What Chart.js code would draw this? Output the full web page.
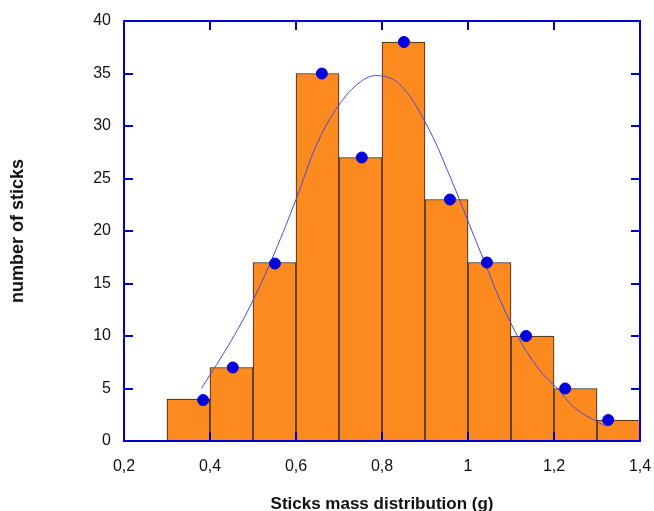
<!DOCTYPE html>
<html><head><meta charset="utf-8">
<script src="https://cdn.jsdelivr.net/npm/chart.js@4"></script>
<style>html,body{margin:0;padding:0;background:#fff}canvas{display:block}</style>
</head><body>
<canvas id="c" width="654" height="511"></canvas>
<script>
const binCenters = [0.35,0.45,0.55,0.65,0.75,0.85,0.95,1.05,1.15,1.25,1.35];
const binCounts  = [4,7,17,35,27,38,23,17,10,5,2];
const pointX = [0.384,0.453,0.551,0.66,0.753,0.851,0.958,1.044,1.135,1.226,1.326];
const pointY = [3.9,7.0,16.9,35,27,38,23,17,10,5,2];
const curveX = [0.38,0.45,0.50,0.55,0.60,0.65,0.70,0.75,0.79,0.84,0.90,0.96,1.03,1.10,1.16,1.21,1.25,1.32];
const curveY = [5.0,9.6,13.4,17.9,23.0,28.4,32.0,34.2,34.8,34.0,30.4,25.0,17.9,11.2,7.1,4.9,3.1,1.4];
const xTitle = 'Sticks mass distribution (g)';
const yTitle = 'number of sticks';

const BLUE = '#0000CC';
const fmt = v => Number(v.toFixed(1)).toString().replace('.', ',');

const frame = {
  id: 'frame',
  afterDatasetsDraw(chart) {
    const {ctx, chartArea: a, scales: {x, y}} = chart;
    ctx.save();
    ctx.strokeStyle = BLUE;
    ctx.lineWidth = 2;
    ctx.strokeRect(a.left, a.top, a.right - a.left, a.bottom - a.top);
    const L = 9;
    ctx.beginPath();
    y.ticks.forEach(t => {
      const py = Math.round(y.getPixelForValue(t.value));
      ctx.moveTo(a.left, py); ctx.lineTo(a.left + L, py);
      ctx.moveTo(a.right, py); ctx.lineTo(a.right - L, py);
    });
    x.ticks.forEach(t => {
      const px = Math.round(x.getPixelForValue(t.value));
      ctx.moveTo(px, a.top); ctx.lineTo(px, a.top + L);
      ctx.moveTo(px, a.bottom); ctx.lineTo(px, a.bottom - L);
    });
    ctx.stroke();
    ctx.restore();
  }
};

new Chart(document.getElementById('c'), {
  type: 'bar',
  data: {
    datasets: [
      {
        type: 'scatter',
        data: pointX.map((v, i) => ({x: v, y: pointY[i]})),
        backgroundColor: '#0000DD',
        borderColor: '#0000DD',
        pointRadius: 5.5,
        order: 1
      },
      {
        type: 'line',
        data: curveX.map((v, i) => ({x: v, y: curveY[i]})),
        borderColor: '#4848E0',
        borderWidth: 1,
        pointRadius: 0,
        tension: 0.4,
        fill: false,
        order: 2
      },
      {
        type: 'bar',
        data: binCenters.map((v, i) => ({x: v, y: binCounts[i]})),
        backgroundColor: '#FD8A1E',
        borderColor: '#222222',
        borderWidth: 1,
        barPercentage: 1,
        categoryPercentage: 1,
        order: 3
      }
    ]
  },
  options: {
    responsive: false,
    animation: false,
    events: [],
    layout: {padding: {top: 21, right: 14, left: 0, bottom: 0}},
    plugins: {legend: {display: false}, tooltip: {enabled: false}},
    scales: {
      x: {
        type: 'linear', min: 0.2, max: 1.4, offset: false,
        grid: {display: false, offset: false, drawTicks: false},
        border: {display: false},
        ticks: {stepSize: 0.2, callback: v => fmt(v), color: '#111', padding: 16,
                font: {family: 'Liberation Sans, Arial, sans-serif', size: 16}, maxRotation: 0},
        title: {display: true, text: xTitle, color: '#111',
                font: {family: 'Liberation Sans, Arial, sans-serif', size: 17, weight: 'bold', lineHeight: 0.75},
                padding: {top: 0, bottom: 0}},
        afterFit: s => { s.height = 70; s.paddingLeft = 0; s.paddingRight = 0; }
      },
      y: {
        min: 0, max: 40,
        grid: {display: false, drawTicks: false},
        border: {display: false},
        ticks: {stepSize: 5, color: '#111', padding: 13,
                font: {family: 'Liberation Sans, Arial, sans-serif', size: 16}},
        title: {display: true, text: yTitle, color: '#111',
                font: {family: 'Liberation Sans, Arial, sans-serif', size: 18, weight: 'bold', lineHeight: 1},
                padding: {top: 9, bottom: 0}},
        afterFit: s => { s.width = 124; s.paddingTop = 0; s.paddingBottom = 0; }
      }
    }
  },
  plugins: [frame]
});
</script>
</body></html>
